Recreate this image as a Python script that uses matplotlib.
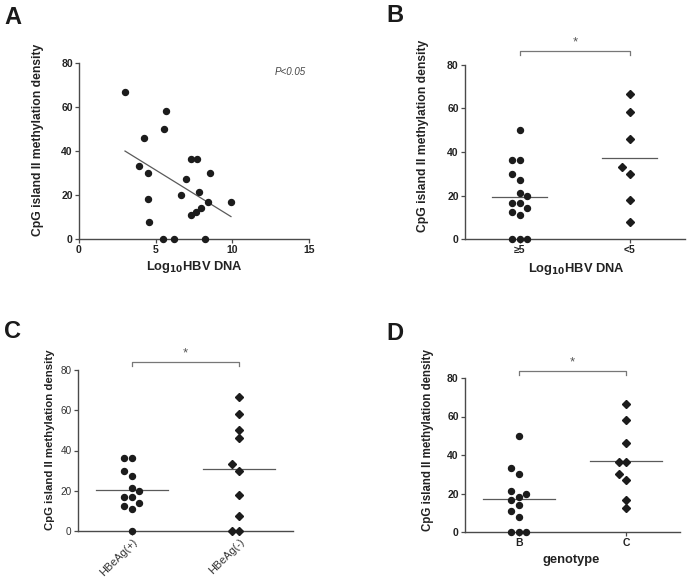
import matplotlib
matplotlib.use('Agg')
import matplotlib.pyplot as plt
import numpy as np

plt.rcParams['font.family'] = ['Liberation Sans', 'DejaVu Sans']

W, H = 689, 578
INK = '#1c1c1c'
AXC = '#4a4a4a'
LINE = '#5a5a5a'

# ── Data ──────────────────────────────────────────────────────────────────
# Panel A: log10 HBV DNA vs CpG island II methylation density
a_hbv = [3.0, 5.65, 5.54, 4.24, 3.89, 4.52, 4.52, 4.57, 5.48, 6.17, 8.24,
         7.33, 7.67, 6.98, 8.52, 6.67, 7.83, 7.33, 7.65, 7.96, 8.39, 9.91]
a_cpg = [66.6, 58.3, 50.1, 46.1, 33.2, 29.9, 18.1, 7.6, 0, 0, 0,
         36.3, 36.3, 27.2, 29.9, 19.9, 21.2, 11.1, 12.4, 14.1, 16.7, 16.7]

# Panel B: by HBV DNA level
b_labels = ['≥5', '<5']
b_high = [50, 36.3, 36.3, 29.9, 27.2, 21.2, 19.9, 16.7, 16.7, 14.1, 12.4, 11.1, 0, 0, 0]
b_low = [66.6, 58.3, 46.1, 33.2, 29.9, 18.1, 7.6]

# Panel C: by HBeAg status
c_labels = ['HBeAg(+)', 'HBeAg(-)']
c_pos = [36.3, 36.3, 29.9, 27.2, 21.2, 19.9, 16.7, 16.7, 14.1, 12.4, 11.1, 0]
c_neg = [66.6, 58.3, 50, 46.1, 33.2, 29.9, 18.1, 7.6, 0, 0]

# Panel D: by genotype
d_labels = ['B', 'C']
d_b = [50, 33.2, 29.9, 21.2, 19.9, 18.1, 16.7, 14.1, 11.1, 7.6, 0, 0, 0]
d_c = [66.6, 58.3, 46.1, 36.3, 36.3, 29.9, 27.2, 16.7, 12.4]

YLAB = 'CpG island II methylation density'


def px_axes(l, t, r, b):
    return fig.add_axes([l / W, 1 - b / H, (r - l) / W, (b - t) / H])


def style(ax, tick_bold=True, tick_size=7.5):
    for s in ('top', 'right'):
        ax.spines[s].set_visible(False)
    for s in ('left', 'bottom'):
        ax.spines[s].set_color(AXC)
        ax.spines[s].set_linewidth(1.0)
    ax.tick_params(length=3, width=0.9, color=AXC, labelsize=tick_size,
                   labelcolor='#222222', pad=1.5)
    ax.set_ylim(0, 80)
    ax.set_yticks([0, 20, 40, 60, 80])
    if tick_bold:
        for lab in ax.get_xticklabels() + ax.get_yticklabels():
            lab.set_fontweight('bold')


def swarm(ax, center, values, step_px=7.5, rad_px=7.4):
    """Greedy beeswarm offsets computed in display units."""
    to_px = ax.transData.transform
    x0 = to_px((center, 0))[0]
    dx = to_px((center + 1, 0))[0] - x0
    order = np.argsort(values)
    placed = []
    xs = np.zeros(len(values))
    for i in order:
        y = to_px((center, values[i]))[1]
        for k in [0, -1, 1, -2, 2]:
            xp = x0 + k * step_px
            if all(np.hypot(xp - px, y - py) >= rad_px for px, py in placed):
                break
        placed.append((xp, y))
        xs[i] = center + (xp - x0) / dx
    return xs


def dot_panel(ax, groups, labels, half, bracket_y, tick_bold=True, rot=0):
    ax.set_xlim(-0.5, 1.5)
    style(ax, tick_bold)
    for i, (vals, mk, ms) in enumerate(groups):
        xs = swarm(ax, i, vals)
        ax.plot(xs, vals, ls='none', marker=mk, ms=ms, color=INK, mec=INK,
                clip_on=False, zorder=3)
        m = np.mean(vals)
        ax.plot([i - half, i + half], [m, m], color=LINE, lw=0.9, zorder=2)
    ax.set_xticks([0, 1])
    if rot:
        ax.set_xticklabels(labels, rotation=rot, ha='right', rotation_mode='anchor',
                           fontsize=7.8, color='#333333')
    else:
        ax.set_xticklabels(labels, fontweight='bold' if tick_bold else 'normal')
    by = bracket_y
    ax.plot([0, 0, 1, 1], [by - 2, by, by, by - 2], color='#777777', lw=0.9,
            clip_on=False)
    ax.text(0.5, by + 1.2, '*', ha='center', va='bottom', fontsize=9.5,
            color='#555555', clip_on=False)


fig = plt.figure(figsize=(W / 100, H / 100), dpi=100)

# ── Panel A ───────────────────────────────────────────────────────────────
axA = px_axes(79, 63, 309, 239)
axA.set_xlim(0, 15)
style(axA)
axA.set_xticks([0, 5, 10, 15])
for lab in axA.get_xticklabels():
    lab.set_fontweight('bold')
axA.plot(a_hbv, a_cpg, ls='none', marker='o', ms=4.3, color=INK, clip_on=False, zorder=3)
k, c0 = np.polyfit(a_hbv, a_cpg, 1)
fx = np.array([min(a_hbv), max(a_hbv)])
axA.plot(fx, k * fx + c0, color=LINE, lw=0.9)
axA.text(13.8, 76, 'P<0.05', fontsize=7, style='italic', color='#444444',
         ha='center', va='center')

# ── Panel B ───────────────────────────────────────────────────────────────
axB = px_axes(465, 65, 685, 239)
dot_panel(axB, [(b_high, 'o', 4.3), (b_low, 'D', 3.8)], b_labels, 0.25, 86.4)

# ── Panel C ───────────────────────────────────────────────────────────────
axC = px_axes(78, 370, 293, 531)
dot_panel(axC, [(c_pos, 'o', 4.3), (c_neg, 'D', 3.8)], c_labels, 0.335, 84.0,
          tick_bold=False, rot=45)
axC.tick_params(axis='y', labelsize=7.2, labelcolor='#333333')

# ── Panel D ───────────────────────────────────────────────────────────────
axD = px_axes(465, 378, 680, 532)
dot_panel(axD, [(d_b, 'o', 4.3), (d_c, 'D', 3.8)], d_labels, 0.335, 83.6)

# ── Labels ────────────────────────────────────────────────────────────────
for x, y, fs in [(38, 140, 8.7), (423, 136, 8.7), (50, 440, 8.2), (428, 440, 8.3)]:
    fig.text(x / W, 1 - y / H, YLAB, rotation=90, ha='center', va='center',
             fontsize=fs, fontweight='bold', color='#222222')

fig.text(194 / W, 1 - 267 / H, r'Log$_{\mathbf{10}}$HBV DNA', ha='center', va='center',
         fontsize=9.3, fontweight='bold', color='#222222')
fig.text(576 / W, 1 - 269 / H, r'Log$_{\mathbf{10}}$HBV DNA', ha='center', va='center',
         fontsize=9.3, fontweight='bold', color='#222222')
fig.text(571 / W, 1 - 560 / H, 'genotype', ha='center', va='center',
         fontsize=9.3, fontweight='bold', color='#222222')

for x, y, s in [(4, 6, 'A'), (386, 4, 'B'), (4, 320, 'C'), (386, 322, 'D')]:
    fig.text(x / W, 1 - y / H, s, ha='left', va='top', fontsize=17,
             fontweight='bold', color='#1a1a1a')

fig.savefig('out.png', dpi=100, facecolor='white')
